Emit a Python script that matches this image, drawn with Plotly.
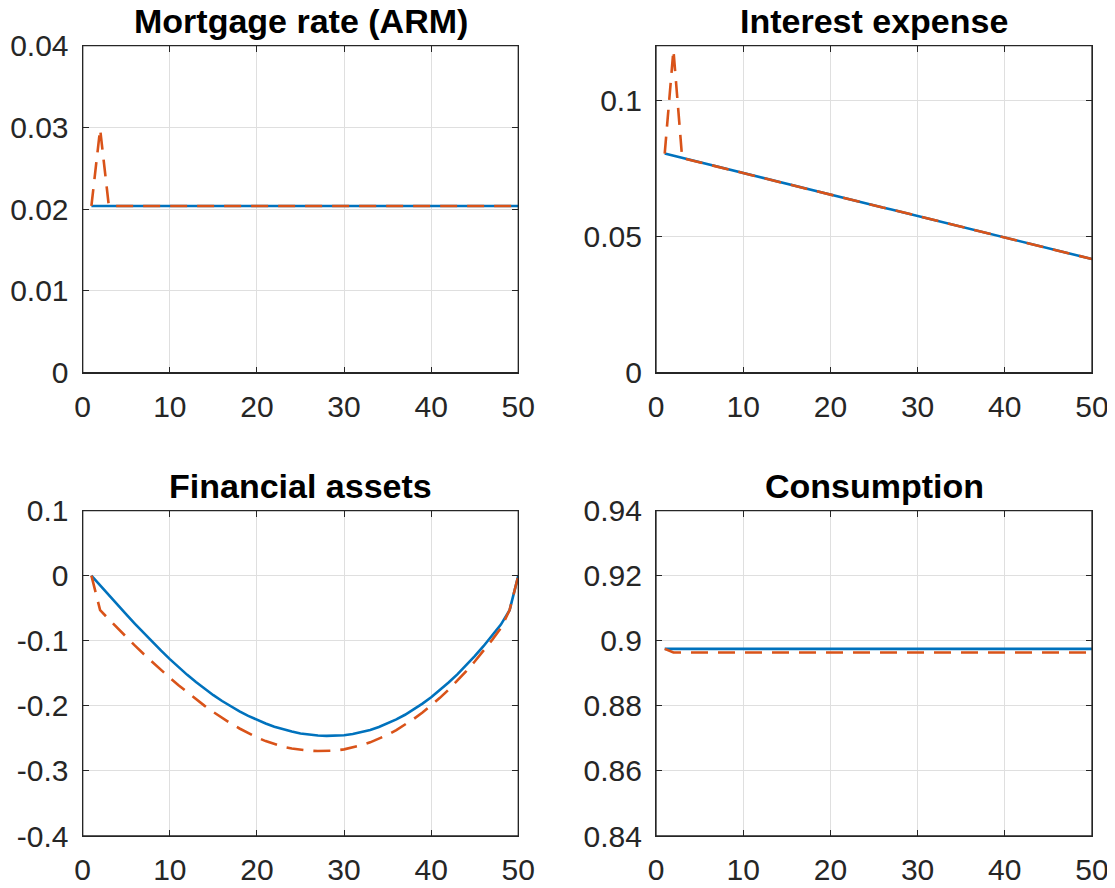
import plotly.graph_objects as go

# ---------------- data ----------------
periods = list(range(1, 51))

mortgage_base = [
    0.0204, 0.0204, 0.0204, 0.0204, 0.0204, 0.0204, 0.0204, 0.0204, 0.0204, 0.0204,
    0.0204, 0.0204, 0.0204, 0.0204, 0.0204, 0.0204, 0.0204, 0.0204, 0.0204, 0.0204,
    0.0204, 0.0204, 0.0204, 0.0204, 0.0204, 0.0204, 0.0204, 0.0204, 0.0204, 0.0204,
    0.0204, 0.0204, 0.0204, 0.0204, 0.0204, 0.0204, 0.0204, 0.0204, 0.0204, 0.0204,
    0.0204, 0.0204, 0.0204, 0.0204, 0.0204, 0.0204, 0.0204, 0.0204, 0.0204, 0.0204]
mortgage_shock = [
    0.0204, 0.0298, 0.0204, 0.0204, 0.0204, 0.0204, 0.0204, 0.0204, 0.0204, 0.0204,
    0.0204, 0.0204, 0.0204, 0.0204, 0.0204, 0.0204, 0.0204, 0.0204, 0.0204, 0.0204,
    0.0204, 0.0204, 0.0204, 0.0204, 0.0204, 0.0204, 0.0204, 0.0204, 0.0204, 0.0204,
    0.0204, 0.0204, 0.0204, 0.0204, 0.0204, 0.0204, 0.0204, 0.0204, 0.0204, 0.0204,
    0.0204, 0.0204, 0.0204, 0.0204, 0.0204, 0.0204, 0.0204, 0.0204, 0.0204, 0.0204]

interest_base = [
    0.0804, 0.0796, 0.0788, 0.0780, 0.0772, 0.0765, 0.0757, 0.0749, 0.0741, 0.0733,
    0.0725, 0.0717, 0.0709, 0.0701, 0.0693, 0.0685, 0.0678, 0.0670, 0.0662, 0.0654,
    0.0646, 0.0638, 0.0630, 0.0622, 0.0614, 0.0606, 0.0599, 0.0591, 0.0583, 0.0575,
    0.0567, 0.0559, 0.0551, 0.0543, 0.0535, 0.0527, 0.0520, 0.0512, 0.0504, 0.0496,
    0.0488, 0.0480, 0.0472, 0.0464, 0.0456, 0.0448, 0.0441, 0.0433, 0.0425, 0.0417]
interest_shock = [
    0.0804, 0.1184, 0.0788, 0.0780, 0.0772, 0.0765, 0.0757, 0.0749, 0.0741, 0.0733,
    0.0725, 0.0717, 0.0709, 0.0701, 0.0693, 0.0685, 0.0678, 0.0670, 0.0662, 0.0654,
    0.0646, 0.0638, 0.0630, 0.0622, 0.0614, 0.0606, 0.0599, 0.0591, 0.0583, 0.0575,
    0.0567, 0.0559, 0.0551, 0.0543, 0.0535, 0.0527, 0.0520, 0.0512, 0.0504, 0.0496,
    0.0488, 0.0480, 0.0472, 0.0464, 0.0456, 0.0448, 0.0441, 0.0433, 0.0425, 0.0417]

assets_base = [
    0.0, -0.0152, -0.0302, -0.0451, -0.0596, -0.0739, -0.0879, -0.1017, -0.1151, -0.1282,
    -0.1407, -0.1524, -0.1635, -0.1739, -0.1836, -0.1926, -0.2009, -0.2085, -0.2154, -0.2216,
    -0.2271, -0.2320, -0.2361, -0.2396, -0.2424, -0.2443, -0.2455, -0.2461, -0.2461, -0.2452,
    -0.2434, -0.2407, -0.2371, -0.2326, -0.2272, -0.2209, -0.2137, -0.2056, -0.1966, -0.1867,
    -0.1759, -0.1642, -0.1516, -0.1381, -0.1237, -0.1084, -0.0922, -0.0751, -0.0530, 0.0]
assets_shock = [
    0.0, -0.0530, -0.0670, -0.0808, -0.0943, -0.1075, -0.1204, -0.1330, -0.1452, -0.1570,
    -0.1684, -0.1794, -0.1899, -0.2000, -0.2096, -0.2186, -0.2270, -0.2348, -0.2420, -0.2486,
    -0.2542, -0.2590, -0.2628, -0.2656, -0.2676, -0.2689, -0.2695, -0.2696, -0.2687, -0.2669,
    -0.2642, -0.2606, -0.2561, -0.2507, -0.2444, -0.2372, -0.2291, -0.2201, -0.2102, -0.1994,
    -0.1877, -0.1751, -0.1616, -0.1472, -0.1319, -0.1157, -0.0986, -0.0806, -0.0530, 0.0]

consumption_base = [
    0.8975, 0.8975, 0.8975, 0.8975, 0.8975, 0.8975, 0.8975, 0.8975, 0.8975, 0.8975,
    0.8975, 0.8975, 0.8975, 0.8975, 0.8975, 0.8975, 0.8975, 0.8975, 0.8975, 0.8975,
    0.8975, 0.8975, 0.8975, 0.8975, 0.8975, 0.8975, 0.8975, 0.8975, 0.8975, 0.8975,
    0.8975, 0.8975, 0.8975, 0.8975, 0.8975, 0.8975, 0.8975, 0.8975, 0.8975, 0.8975,
    0.8975, 0.8975, 0.8975, 0.8975, 0.8975, 0.8975, 0.8975, 0.8975, 0.8975, 0.8975]
consumption_shock = [
    0.8975, 0.8964, 0.8964, 0.8964, 0.8964, 0.8964, 0.8964, 0.8964, 0.8964, 0.8964,
    0.8964, 0.8964, 0.8964, 0.8964, 0.8964, 0.8964, 0.8964, 0.8964, 0.8964, 0.8964,
    0.8964, 0.8964, 0.8964, 0.8964, 0.8964, 0.8964, 0.8964, 0.8964, 0.8964, 0.8964,
    0.8964, 0.8964, 0.8964, 0.8964, 0.8964, 0.8964, 0.8964, 0.8964, 0.8964, 0.8964,
    0.8964, 0.8964, 0.8964, 0.8964, 0.8964, 0.8964, 0.8964, 0.8964, 0.8964, 0.8964]

titles = ["Mortgage rate (ARM)", "Interest expense", "Financial assets", "Consumption"]

x_tickvals = [0, 10, 20, 30, 40, 50]
x_ticktext = ["0", "10", "20", "30", "40", "50"]

mortgage_tickvals = [0, 0.01, 0.02, 0.03, 0.04]
mortgage_ticktext = ["0", "0.01", "0.02", "0.03", "0.04"]
interest_tickvals = [0, 0.05, 0.1]
interest_ticktext = ["0", "0.05", "0.1"]
assets_tickvals = [0.1, 0, -0.1, -0.2, -0.3, -0.4]
assets_ticktext = ["0.1", "0", "-0.1", "-0.2", "-0.3", "-0.4"]
consumption_tickvals = [0.84, 0.86, 0.88, 0.9, 0.92, 0.94]
consumption_ticktext = ["0.84", "0.86", "0.88", "0.9", "0.92", "0.94"]

# ---------------- figure ----------------
OFF = 8  # page body margin in the browser
W, H = 1115 - 2 * OFF, 888 - 2 * OFF
BLUE = "#0072BD"
RED = "#D95319"
AX = "#262626"
GRID = "#dfdfdf"
FONT = "Liberation Sans, Arial, Helvetica, sans-serif"

# screen-pixel layout of the four axes (left, right, top, bottom)
boxes = [
    (82.7, 518.3, 45.7, 372.7),
    (656.0, 1092.0, 45.7, 372.7),
    (82.7, 518.3, 510.6, 836.0),
    (656.0, 1092.0, 510.6, 836.0),
]
yranges = [[0, 0.04], [0, 0.12], [-0.4, 0.1], [0.84, 0.94]]
ytv = [mortgage_tickvals, interest_tickvals, assets_tickvals, consumption_tickvals]
ytt = [mortgage_ticktext, interest_ticktext, assets_ticktext, consumption_ticktext]
series = [
    (mortgage_base, mortgage_shock),
    (interest_base, interest_shock),
    (assets_base, assets_shock),
    (consumption_base, consumption_shock),
]

fig = go.Figure()
layout = {}
annotations = []
shapes = []
for i in range(4):
    sfx = "" if i == 0 else str(i + 1)
    xa, ya = "x" + sfx, "y" + sfx
    base, shock = series[i]
    fig.add_trace(go.Scatter(x=periods, y=base, mode="lines", xaxis=xa, yaxis=ya,
                             line=dict(color=BLUE, width=2.6), hoverinfo="skip"))
    fig.add_trace(go.Scatter(x=periods, y=shock, mode="lines", xaxis=xa, yaxis=ya,
                             line=dict(color=RED, width=2.6, dash="17px,10px"),
                             hoverinfo="skip"))
    l, r, t, b = [v - OFF for v in boxes[i]]
    common = dict(showline=True, linecolor=AX, linewidth=1.3, mirror="ticks",
                  ticks="inside", ticklen=6, tickwidth=1.3, tickcolor=AX,
                  showgrid=True, gridcolor=GRID, gridwidth=1, zeroline=False,
                  automargin=False, ticklabeloverflow="allow",
                  tickfont=dict(family=FONT, size=30, color=AX), fixedrange=True)
    layout["xaxis" + sfx] = dict(domain=[l / W, r / W], anchor=ya, range=[0, 50],
                                 tickmode="array", tickvals=x_tickvals, ticktext=x_ticktext,
                                 ticklabelstandoff=7, **common)
    layout["yaxis" + sfx] = dict(domain=[1 - b / H, 1 - t / H], anchor=xa, range=yranges[i],
                                 tickmode="array", tickvals=ytv[i], ticktext=ytt[i],
                                 ticklabelstandoff=7, **common)
    # axes box outline (MATLAB "box on")
    shapes.append(dict(type="rect", xref=xa + " domain", yref=ya + " domain",
                       x0=0, x1=1, y0=0, y1=1, layer="above",
                       line=dict(color=AX, width=1.3), fillcolor="rgba(0,0,0,0)"))
    annotations.append(dict(text="<b>" + titles[i] + "</b>", xref="paper", yref="paper",
                            x=(l + r) / 2 / W, y=1 - (t - 25) / H, xanchor="center",
                            yanchor="middle", showarrow=False,
                            font=dict(family=FONT, size=34, color="#000000")))

fig.update_layout(**layout)
fig.update_layout(width=W, height=H, margin=dict(l=0, r=0, t=0, b=0, pad=0),
                  paper_bgcolor="white", plot_bgcolor="white", showlegend=False,
                  annotations=annotations, shapes=shapes)

fig.write_html("out.html")
